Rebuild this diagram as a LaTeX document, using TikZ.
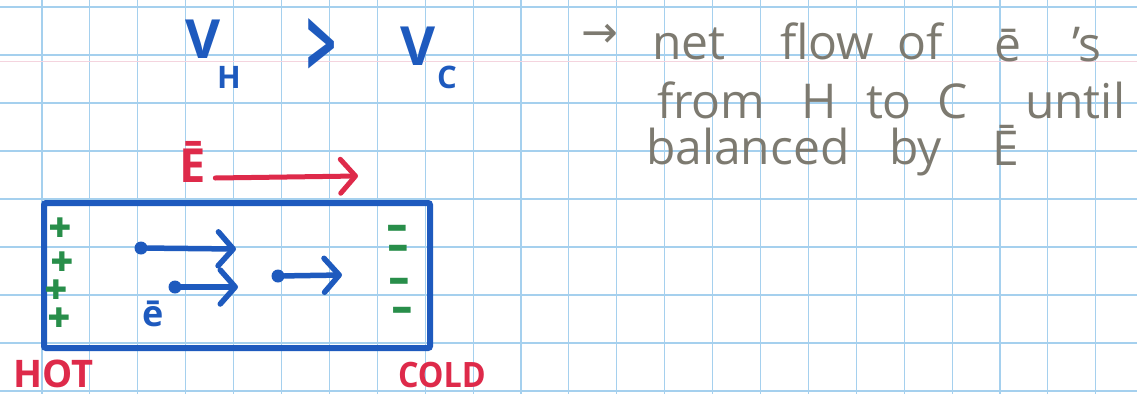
\documentclass[tikz,border=0pt]{standalone}
\usepackage{fontspec}
\setmainfont{Open Sans}
\newfontfamily\dejavu{DejaVu Sans}
\usetikzlibrary{arrows.meta}
\definecolor{ink}{RGB}{30,90,190}
\definecolor{redink}{RGB}{222,42,74}
\definecolor{greenink}{RGB}{40,142,74}
\definecolor{pencil}{RGB}{125,122,112}
\definecolor{gridblue}{RGB}{165,208,238}
\definecolor{pinkline}{RGB}{244,212,222}
\begin{document}
\begin{tikzpicture}[x=1pt,y=-1pt,
  gridline/.style={gridblue,line width=1.1pt},
  word/.style={anchor=base west,inner sep=0pt,outer sep=0pt},
  pnote/.style={word,text=pencil,font=\fontsize{48}{50}\selectfont},
  bluetxt/.style={word,text=ink},
  redtxt/.style={word,text=redink,font=\bfseries\fontsize{38}{38}\selectfont},
  charge/.style={inner sep=0pt,text=greenink,font=\dejavu\fontsize{27}{27}\selectfont},
  electron/.style={circle,fill=ink,inner sep=0pt,minimum size=13pt},
  flow/.style={ink,line width=5.5pt,line cap=round,line join=round,
    -{Straight Barb[length=15pt,width=34pt,line width=5.5pt,line cap=round,line join=round]}},
  field/.style={redink,line width=5pt,line cap=round,line join=round,
    -{Straight Barb[length=15pt,width=34pt,line width=5pt,line cap=round,line join=round]}}
]
\useasboundingbox (0,0) rectangle (1137,394);
\fill[white] (0,0) rectangle (1137,394);
% graph paper
\foreach \k in {0,...,22} \draw[gridline] ({42+47.9*\k},0) -- ({42+47.9*\k},394);
\foreach \k in {0,...,8} \draw[gridline] (0,{7+48*\k}) -- (1137,{7+48*\k});
\draw[pinkline,line width=1pt] (0,61) -- (1137,61);

% V_H > V_C
\node[bluetxt,font=\bfseries\fontsize{54}{54}\selectfont] (vh) at (185,58) {V};
\node[bluetxt,font=\bfseries\fontsize{31}{31}\selectfont] (vhsub) at (217,88) {H};
\node[bluetxt,font=\bfseries\fontsize{96}{96}\selectfont] (gt) at (306,78) {\scalebox{0.55}[1]{>}};
\node[bluetxt,font=\bfseries\fontsize{54}{54}\selectfont] (vc) at (400,65) {V};
\node[bluetxt,font=\bfseries\fontsize{31}{31}\selectfont] (vcsub) at (437,88) {C};

% field
\node[word,text=redink,font=\bfseries\fontsize{47}{47}\selectfont] (efield) at (179,182) {Ē};
\coordinate (etip) at (358,176);
\draw[field] ([xshift=10pt,yshift=4pt]efield.base east) -- (etip);

% conductor
\node[draw=ink,line width=6pt,rounded corners=2pt,anchor=north west,
  minimum width=386pt,minimum height=145pt,inner sep=0pt] (bar) at (41,200) {};

% charges
\node[charge] (p1) at (60,228) {✚};
\node[charge] (p2) at (62,262) {✚};
\node[charge] (p3) at (56,290) {✚};
\node[charge] (p4) at (59,318) {✚};
\node[charge] (m1) at (397,229) {\scalebox{0.85}[0.6]{▬}};
\node[charge] (m2) at (398,249) {\scalebox{0.85}[0.6]{▬}};
\node[charge] (m3) at (399,282) {\scalebox{0.85}[0.6]{▬}};
\node[charge] (m4) at (402,311) {\scalebox{0.85}[0.6]{▬}};

% electrons
\node[electron] (e1) at (141,248) {};
\node[electron] (e2) at (175,287) {};
\node[electron] (e3) at (278,276) {};
\coordinate (t1) at (236,249);
\coordinate (t2) at (238,287);
\coordinate (t3) at (342,275);
\draw[flow] (e1) -- (t1);
\draw[flow] (e2) -- (t2);
\draw[flow] (e3) -- (t3);
\node[bluetxt,font=\bfseries\fontsize{36}{36}\selectfont] (elabel) at (142,326) {ē};

% labels
\node[redtxt] (hot) at (13,387) {HOT};
\node[redtxt] (cold) at (398,387) {\scalebox{0.85}[0.92]{COLD}};

% note
\node[inner sep=0pt,text=pencil,font=\dejavu\fontsize{44}{44}\selectfont] (narrow) at (600,36) {→};
\node[pnote] (w1) at (652,59) {net};
\node[pnote] (w2) at (780,59) {flow};
\node[pnote] (w3) at (897,59) {of};
\node[pnote] (w4) at (994,61) {ē};
\node[pnote] (w5) at (1072,61) {'s};
\node[pnote] (w6) at (657,118) {from};
\node[pnote] (w7) at (801,118) {H};
\node[pnote] (w8) at (866,118) {to};
\node[pnote] (w9) at (937,118) {C};
\node[pnote] (w10) at (1025,118) {until};
\node[pnote] (w11) at (646,164) {balanced};
\node[pnote] (w12) at (889,164) {by};
\node[pnote] (w13) at (992,165) {Ē};
\end{tikzpicture}
\end{document}
